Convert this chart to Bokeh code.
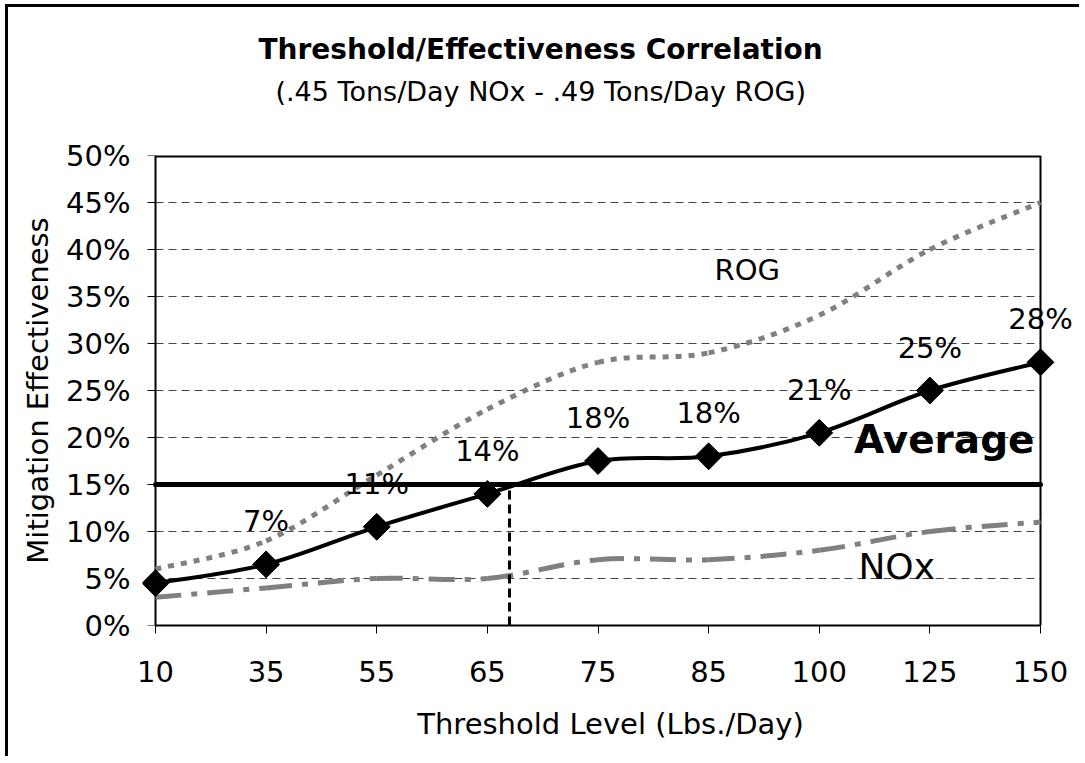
import math
from bokeh.plotting import figure
from bokeh.models import (FixedTicker, PrintfTickFormatter, Title,
                          ColumnDataSource, LabelSet, Range1d)
from bokeh.embed import file_html
from bokeh.resources import INLINE
from bokeh.core.properties import value

# ---------------- data ----------------
categories = ["10", "35", "55", "65", "75", "85", "100", "125", "150"]
rog = [6, 9, 16, 23, 28, 29, 33, 40, 45]
nox = [3, 4, 5, 5, 7, 7, 8, 10, 11]
average = [4.5, 6.5, 10.5, 14, 17.5, 18, 20.5, 25, 28]
average_labels = ["", "7%", "11%", "14%", "18%", "18%", "21%", "25%", "28%"]
avg_effectiveness = 15          # horizontal "Average" level (%)
threshold_crossing = 3.2        # category position where average reaches 15%
y_ticks = [0, 5, 10, 15, 20, 25, 30, 35, 40, 45, 50]

xs = list(range(len(categories)))
last = len(categories) - 1
ymax = y_ticks[-1]
FONT = "DejaVu Sans"


def smooth_segments(xv, yv):
    """Bezier control points (Catmull-Rom style, like a smoothed line)."""
    n = len(xv)
    d = dict(x0=[], y0=[], x1=[], y1=[], cx0=[], cy0=[], cx1=[], cy1=[])
    for i in range(n - 1):
        a = max(i - 1, 0)
        b = min(i + 2, n - 1)
        d["x0"].append(xv[i]); d["y0"].append(yv[i])
        d["x1"].append(xv[i + 1]); d["y1"].append(yv[i + 1])
        d["cx0"].append(xv[i] + (xv[i + 1] - xv[a]) / 6)
        d["cy0"].append(yv[i] + (yv[i + 1] - yv[a]) / 6)
        d["cx1"].append(xv[i + 1] - (xv[b] - xv[i]) / 6)
        d["cy1"].append(yv[i + 1] - (yv[b] - yv[i]) / 6)
    return ColumnDataSource(d)


# layout (pixels)
W, H = 1074, 752
UNIT = 885 / last            # px per category step inside the plot box
PAD_L, PAD_R = 13, 38        # room so edge markers / labels are not cut
TICK = 8
p = figure(width=W, height=H, output_backend="svg", toolbar_location=None,
           x_range=Range1d(-PAD_L / UNIT, last + PAD_R / UNIT),
           y_range=Range1d(0, ymax),
           min_border_left=134, min_border_right=4, min_border_top=148,
           min_border_bottom=134, title=None,
           background_fill_color="white", border_fill_color="white")
p.styles = {"margin-left": "8px", "margin-top": "7px",
            "box-shadow": "-3px -3px 0 0 #000000", "overflow": "hidden"}
p.outline_line_color = None

# axes
p.xaxis.ticker = FixedTicker(ticks=xs)
p.xaxis.major_label_overrides = {i: c for i, c in enumerate(categories)}
p.xaxis.bounds = (0, last)
p.yaxis.ticker = FixedTicker(ticks=y_ticks)
p.yaxis.formatter = PrintfTickFormatter(format="%d%%")
for ax in (p.xaxis[0], p.yaxis[0]):
    ax.axis_line_color = "black"
    ax.axis_line_width = 2
    ax.major_tick_line_color = "black"
    ax.major_tick_line_width = 1
    ax.major_tick_out = TICK
    ax.major_tick_in = 0
    ax.minor_tick_line_color = None
    ax.major_label_text_font = FONT
    ax.major_label_text_font_size = "29px"
    ax.major_label_text_color = "black"
    ax.axis_label_text_font = FONT
    ax.axis_label_text_font_size = "29px"
    ax.axis_label_text_font_style = "normal"
    ax.axis_label_text_color = "black"
# the y axis line and ticks are drawn at the first category below
p.yaxis.axis_line_color = None
p.yaxis.major_tick_line_color = None
p.yaxis.major_tick_out = 0
p.xaxis.axis_label = "Threshold Level (Lbs./Day)"
p.yaxis.axis_label = "Mitigation Effectiveness"
p.xaxis.major_label_standoff = 27
p.yaxis.major_label_standoff = 12
p.xaxis.axis_label_standoff = 22
p.yaxis.axis_label_standoff = 8
p.xgrid.visible = False
p.ygrid.visible = False

# titles (inner first); a blank spacer keeps the subtitle off the plot box
spacer = Title(text=" ", text_font_size="1px", standoff=44)
sub = Title(text="(.45 Tons/Day NOx - .49 Tons/Day ROG)", align="left",
            text_font=FONT, text_font_size="27px", text_font_style="normal",
            text_color="black", offset=133, standoff=4)
main = Title(text="Threshold/Effectiveness Correlation", align="left",
             text_font=FONT, text_font_size="28px", text_font_style="bold",
             text_color="black", offset=116, standoff=12)
p.add_layout(spacer, "above")
p.add_layout(sub, "above")
p.add_layout(main, "above")

# plot box: dashed grid, y axis line + ticks, top and right edges
grid_levels = y_ticks[1:-1]
n_g = len(grid_levels)
p.segment(x0=[0] * n_g, y0=grid_levels, x1=[last] * n_g, y1=grid_levels,
          line_color="#444444", line_width=1, line_dash="8 5")
n_t = len(y_ticks)
p.segment(x0=[-TICK / UNIT] * n_t, y0=y_ticks, x1=[0] * n_t, y1=y_ticks,
          line_color="black", line_width=1)
p.segment(x0=[0], y0=[0], x1=[0], y1=[ymax], line_color="black",
          line_width=2)
p.segment(x0=[0], y0=[ymax], x1=[last], y1=[ymax], line_color="black",
          line_width=4)
p.segment(x0=[last], y0=[0], x1=[last], y1=[ymax], line_color="black",
          line_width=2)

# series
p.bezier(x0="x0", y0="y0", x1="x1", y1="y1", cx0="cx0", cy0="cy0",
         cx1="cx1", cy1="cy1", source=smooth_segments(xs, rog),
         line_color="#808080", line_width=5, line_dash="6 7")
p.bezier(x0="x0", y0="y0", x1="x1", y1="y1", cx0="cx0", cy0="cy0",
         cx1="cx1", cy1="cy1", source=smooth_segments(xs, nox),
         line_color="#808080", line_width=5, line_dash="26 10 6 10")

p.segment(x0=[0], y0=[avg_effectiveness], x1=[last], y1=[avg_effectiveness],
          line_color="black", line_width=5, line_cap="round")
p.segment(x0=[threshold_crossing], y0=[0], x1=[threshold_crossing],
          y1=[avg_effectiveness], line_color="black", line_width=3,
          line_dash="9 5")

p.bezier(x0="x0", y0="y0", x1="x1", y1="y1", cx0="cx0", cy0="cy0",
         cx1="cx1", cy1="cy1", source=smooth_segments(xs, average),
         line_color="black", line_width=4)
p.scatter(xs, average, marker="square", angle=math.pi / 4, size=19,
          fill_color="black", line_color="black")

lab_src = ColumnDataSource(dict(x=xs, y=average, t=average_labels))
p.add_layout(LabelSet(x="x", y="y", text="t", source=lab_src,
                      text_align="center", text_baseline="alphabetic",
                      y_offset=33, text_font=value(FONT),
                      text_font_size=value("29px"), text_color="black"))

# series names
names = ColumnDataSource(dict(x=[5.35, 6.70], y=[36.8, 4.9],
                              t=["ROG", "NOx"], s=["29px", "36px"]))
p.add_layout(LabelSet(x="x", y="y", text="t", source=names,
                      text_align="center", text_baseline="alphabetic",
                      text_font=value(FONT), text_font_size="s",
                      text_color="black"))
avg_name = ColumnDataSource(dict(x=[7.13], y=[18.3], t=["Average"]))
p.add_layout(LabelSet(x="x", y="y", text="t", source=avg_name,
                      text_align="center", text_baseline="alphabetic",
                      text_font=value(FONT), text_font_size=value("39px"),
                      text_font_style="bold", text_color="black"))

open("out.html", "w").write(file_html(p, INLINE))
